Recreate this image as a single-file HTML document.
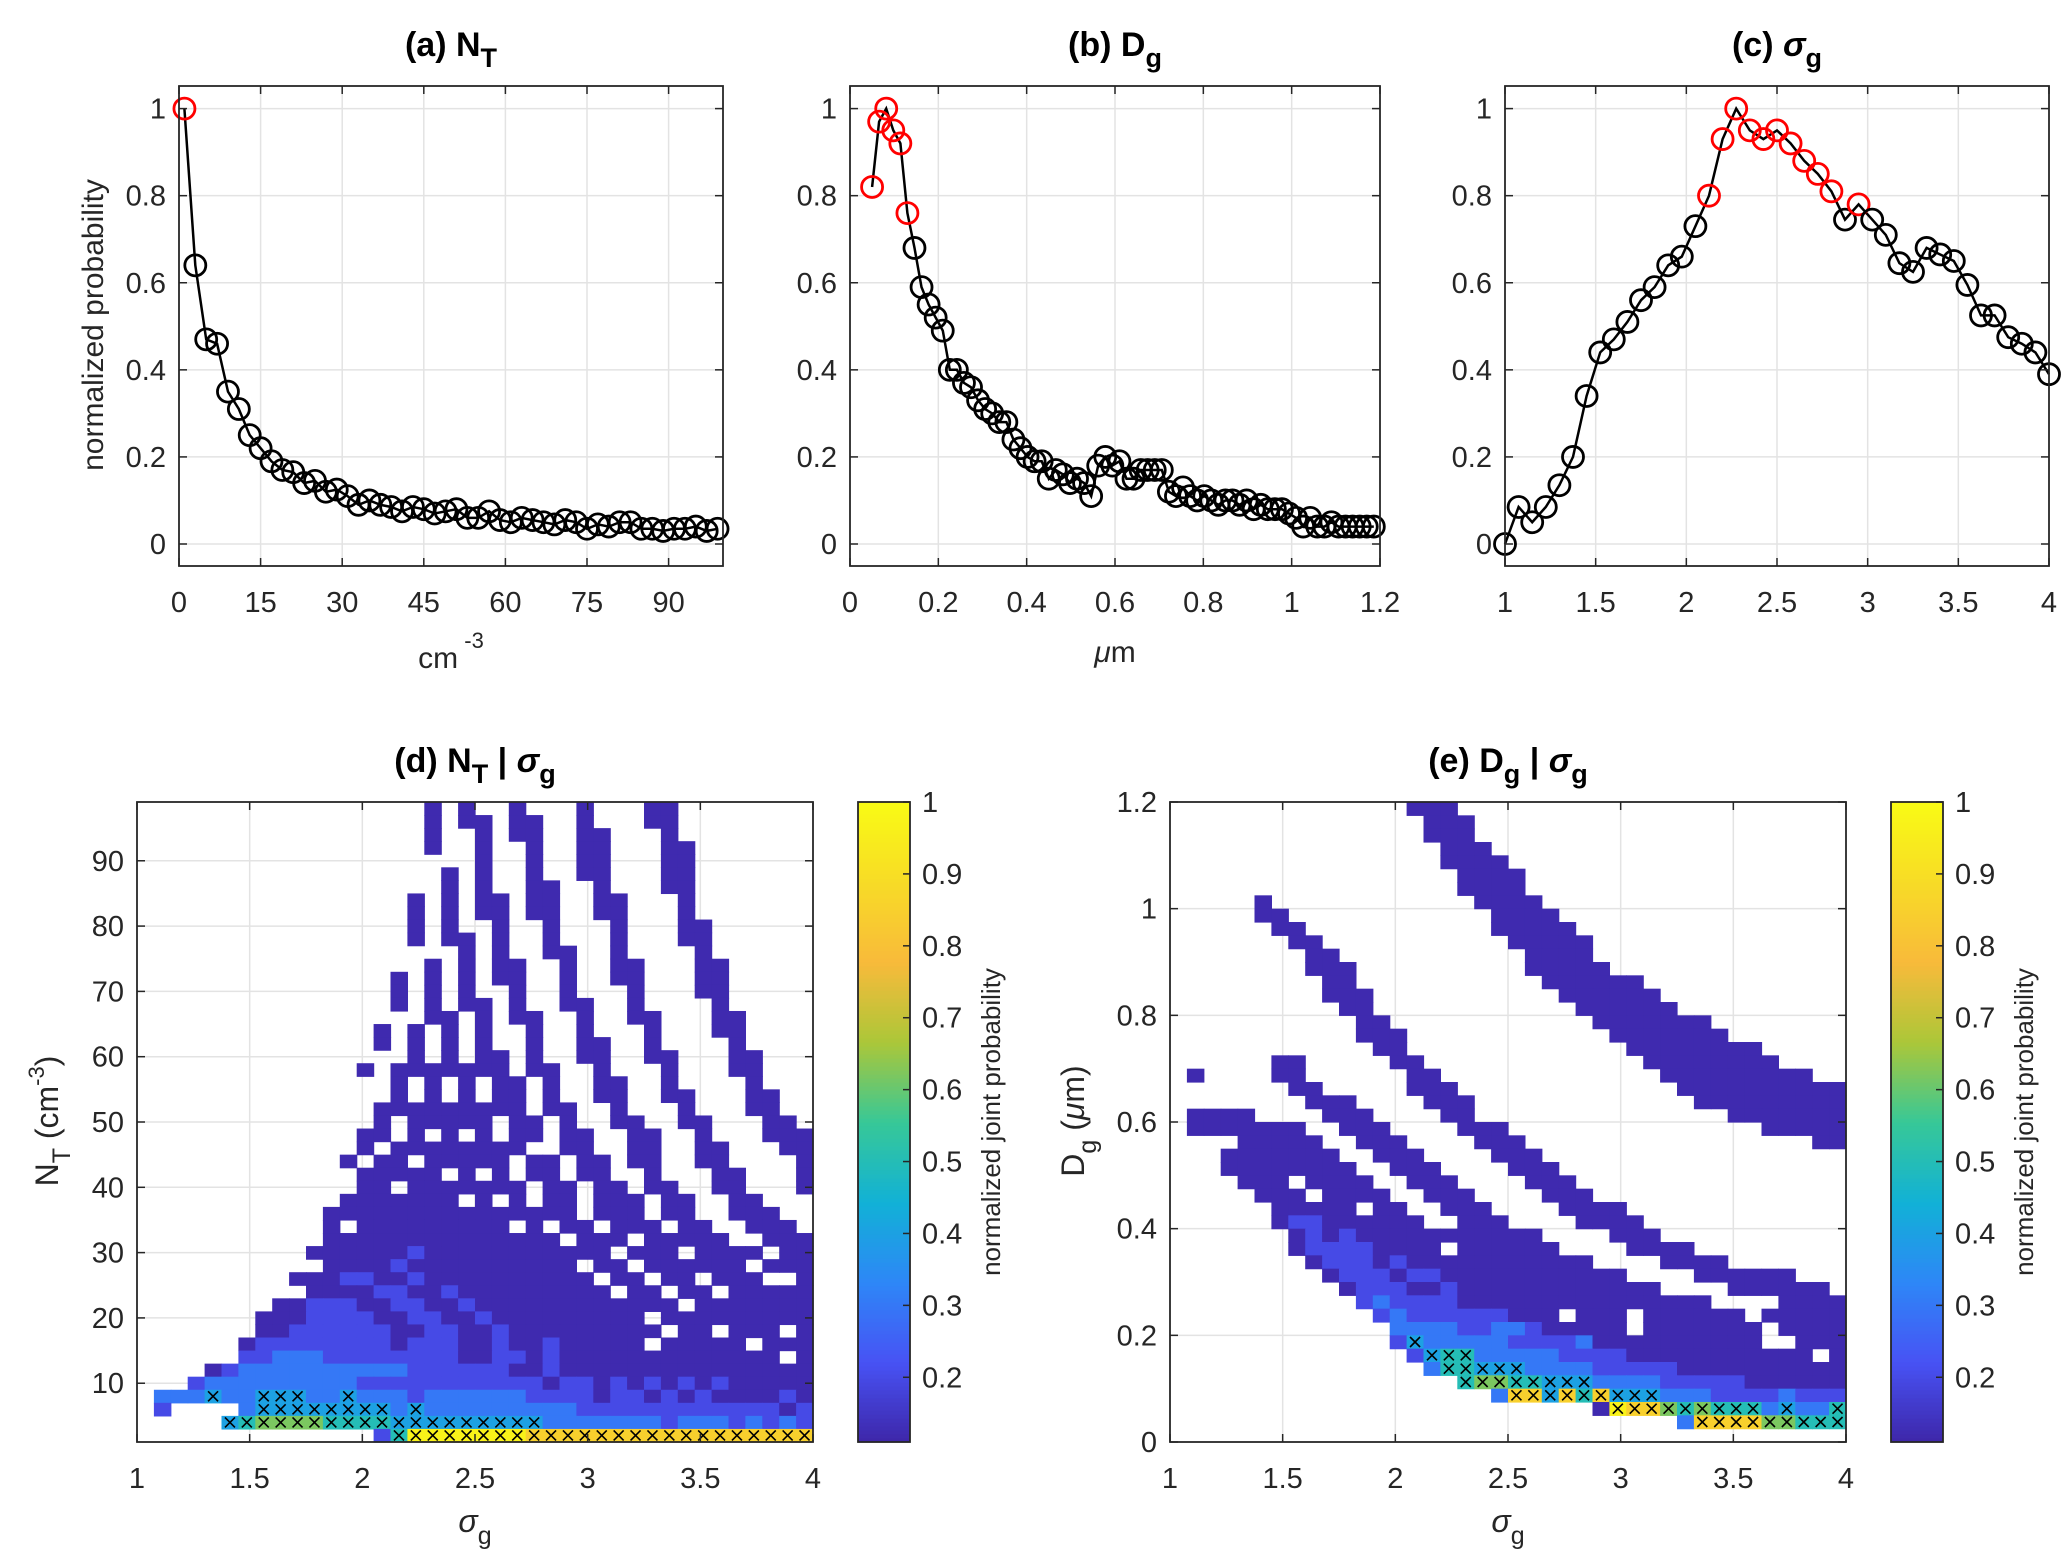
<!DOCTYPE html>
<html><head><meta charset="utf-8">
<style>
body{margin:0;background:#fff}
svg{display:block;font-family:"Liberation Sans",Arial,sans-serif}
</style></head>
<body>
<svg id="fig" width="2067" height="1565" viewBox="0 0 2067 1565">
<rect width="2067" height="1565" fill="#fff"/>
<text x="451" y="56" font-size="34" font-weight="bold" text-anchor="middle" fill="#000">(a) N<tspan font-size="27" dy="11">T</tspan></text>
<text x="1115" y="56" font-size="34" font-weight="bold" text-anchor="middle" fill="#000">(b) D<tspan font-size="27" dy="11">g</tspan></text>
<text x="1777" y="56" font-size="34" font-weight="bold" text-anchor="middle" fill="#000">(c) <tspan font-style="italic">σ</tspan><tspan font-size="27" dy="11">g</tspan></text>
<text x="475" y="772" font-size="34" font-weight="bold" text-anchor="middle" fill="#000">(d) N<tspan font-size="27" dy="11">T</tspan><tspan dy="-11"> | </tspan><tspan font-style="italic">σ</tspan><tspan font-size="27" dy="11">g</tspan></text>
<text x="1508" y="772" font-size="34" font-weight="bold" text-anchor="middle" fill="#000">(e) D<tspan font-size="27" dy="11">g</tspan><tspan dy="-11"> | </tspan><tspan font-style="italic">σ</tspan><tspan font-size="27" dy="11">g</tspan></text>
<text x="451" y="668" font-size="30" text-anchor="middle" fill="#262626">cm<tspan font-size="22" dy="-20"> -3</tspan></text>
<text x="1115" y="662" font-size="30" text-anchor="middle" fill="#262626"><tspan font-style="italic">μ</tspan>m</text>
<text transform="translate(103,325) rotate(-90)" font-size="30" text-anchor="middle" fill="#262626">normalized probability</text>
<text x="475" y="1532" font-size="32" text-anchor="middle" fill="#262626"><tspan font-style="italic">σ</tspan><tspan font-size="25" dy="12">g</tspan></text>
<text x="1508" y="1532" font-size="32" text-anchor="middle" fill="#262626"><tspan font-style="italic">σ</tspan><tspan font-size="25" dy="12">g</tspan></text>
<text transform="translate(58,1121) rotate(-90)" font-size="32" text-anchor="middle" fill="#262626">N<tspan font-size="25" dy="12">T</tspan><tspan dy="-12">  (cm</tspan><tspan font-size="22" dy="-14">-3</tspan><tspan dy="14">)</tspan></text>
<text transform="translate(1084,1121) rotate(-90)" font-size="32" text-anchor="middle" fill="#262626">D<tspan font-size="25" dy="12">g</tspan><tspan dy="-12">  (</tspan><tspan font-style="italic">μ</tspan>m)</text>
<text transform="translate(1000,1122) rotate(-90)" font-size="26" text-anchor="middle" fill="#262626">normalized joint probability</text>
<text transform="translate(2033,1122) rotate(-90)" font-size="26" text-anchor="middle" fill="#262626">normalized joint probability</text>
</svg>
<script>
// ---------- data ----------
const aX=[1,3,5,7,9,11,13,15,17,19,21,23,25,27,29,31,33,35,37,39,41,43,45,47,49,51,53,55,57,59,61,63,65,67,69,71,73,75,77,79,81,83,85,87,89,91,93,95,97,99];
const aY=[1,0.64,0.47,0.46,0.35,0.31,0.25,0.22,0.19,0.17,0.165,0.14,0.145,0.12,0.125,0.11,0.09,0.10,0.09,0.085,0.075,0.085,0.08,0.07,0.075,0.08,0.06,0.06,0.075,0.055,0.05,0.06,0.055,0.05,0.045,0.055,0.05,0.035,0.045,0.04,0.05,0.05,0.035,0.035,0.03,0.035,0.035,0.04,0.03,0.035];
const aRed=[0];
const bX=[0.05,0.066,0.082,0.098,0.114,0.13,0.146,0.162,0.178,0.194,0.21,0.226,0.242,0.258,0.274,0.29,0.306,0.322,0.338,0.354,0.37,0.386,0.402,0.418,0.434,0.45,0.466,0.482,0.498,0.514,0.53,0.546,0.562,0.578,0.594,0.61,0.626,0.642,0.658,0.674,0.69,0.706,0.722,0.738,0.754,0.77,0.786,0.802,0.818,0.834,0.85,0.866,0.882,0.898,0.914,0.93,0.946,0.962,0.978,0.994,1.01,1.026,1.042,1.058,1.074,1.09,1.106,1.122,1.138,1.154,1.17,1.186];
const bY=[0.82,0.97,1.0,0.95,0.92,0.76,0.68,0.59,0.55,0.52,0.49,0.40,0.40,0.37,0.36,0.33,0.31,0.30,0.28,0.28,0.24,0.22,0.20,0.19,0.19,0.15,0.17,0.16,0.14,0.15,0.14,0.11,0.18,0.20,0.18,0.19,0.15,0.15,0.17,0.17,0.17,0.17,0.12,0.11,0.13,0.11,0.10,0.11,0.10,0.09,0.10,0.10,0.09,0.10,0.08,0.09,0.08,0.08,0.08,0.07,0.06,0.04,0.06,0.04,0.04,0.05,0.04,0.04,0.04,0.04,0.04,0.04];
const bRed=[0,1,2,3,4,5];
const cX=[1,1.075,1.15,1.225,1.3,1.375,1.45,1.525,1.6,1.675,1.75,1.825,1.9,1.975,2.05,2.125,2.2,2.275,2.35,2.425,2.5,2.575,2.65,2.725,2.8,2.875,2.95,3.025,3.1,3.175,3.25,3.325,3.4,3.475,3.55,3.625,3.7,3.775,3.85,3.925,4];
const cY=[0,0.085,0.05,0.085,0.135,0.20,0.34,0.44,0.47,0.51,0.56,0.59,0.64,0.66,0.73,0.80,0.93,1.0,0.95,0.93,0.95,0.92,0.88,0.85,0.81,0.745,0.78,0.745,0.71,0.645,0.625,0.68,0.665,0.65,0.595,0.525,0.525,0.475,0.46,0.44,0.39];
const cRed=[15,16,17,18,19,20,21,22,23,24,26];
const probTicks=[0,0.2,0.4,0.6,0.8,1];
const probTickLabels=['0','0.2','0.4','0.6','0.8','1'];
const aXTicks=[0,15,30,45,60,75,90];
const aXTickLabels=['0','15','30','45','60','75','90'];
const bXTicks=[0,0.2,0.4,0.6,0.8,1,1.2];
const bXTickLabels=['0','0.2','0.4','0.6','0.8','1','1.2'];
const sigTicks=[1,1.5,2,2.5,3,3.5,4];
const sigTickLabels=['1','1.5','2','2.5','3','3.5','4'];
const dYTicks=[10,20,30,40,50,60,70,80,90];
const dYTickLabels=['10','20','30','40','50','60','70','80','90'];
const eYTicks=[0,0.2,0.4,0.6,0.8,1,1.2];
const eYTickLabels=['0','0.2','0.4','0.6','0.8','1','1.2'];
const cbTicks=[0.2,0.3,0.4,0.5,0.6,0.7,0.8,0.9,1];
const cbTickLabels=['0.2','0.3','0.4','0.5','0.6','0.7','0.8','0.9','1'];
// heatmap level codes (uppercase = marked with x)
const levelKeys=['a','b','c','d','e','f','g','h'];
const levelVals=[0.12,0.2,0.3,0.4,0.5,0.62,0.85,0.97];
const dSigmaMin=1, dSigmaStep=0.075, dNtTop=99, dNtStep=2;
const dRows=[
"..........".concat(".......a.a","..a...a...","aa........"),
"..........".concat(".......a.a","a.aa..a...","aa........"),
"..........".concat(".......a..","a.aa..aa..",".a........"),
"..........".concat(".......a..","a..a..aa..",".aa......."),
"..........".concat("..........","a..a..aa..",".aa......."),
"..........".concat("........a.","a..a..aa..",".aa......."),
"..........".concat("........a.","a..aa..a..",".aa......."),
"..........".concat("......a.a.","aa.aa..aa.","..a......."),
"..........".concat("......a.a.","aa.aa..aa.","..a......."),
"..........".concat("......a.a.",".a..a...a.","..aa......"),
"..........".concat("......a.aa",".a..a...a.","..aa......"),
"..........".concat(".........a",".a..aa..a.","...a......"),
"..........".concat(".......a.a",".aa..a..aa","...aa....."),
"..........".concat(".....a.a.a",".aa..a..aa","...aa....."),
"..........".concat(".....a.a.a","..a..a...a","...aa....."),
"..........".concat(".....a.a.a","a.a..aa..a","....a....."),
"..........".concat(".......aa.","a.aa..a..a","a...aa...."),
"..........".concat("....a.a.a.","a..a..a...","a...aa...."),
"..........".concat("....a.a.a.","a..a..aa..","a....a...."),
"..........".concat("......a.a.","aa.a..aa..","aa...aa..."),
"..........".concat("...a.aaaaa","aa.aa..a..",".a...aa..."),
"..........".concat(".....a.a.a",".aa.a..aa.",".a....a..."),
"..........".concat(".....a.a.a",".aa.a..aa.",".aa...aa.."),
"..........".concat("....aaaaaa","aaa.aa..a.","..a...aa.."),
"..........".concat("....a.aaaa","a.aa.a..aa","..aa...aa."),
"..........".concat("...aa.a.a.","a.aa.aa..a","a..a...aaa"),
"..........".concat("...a.aaaaa","aaa..aa..a","a..aa...aa"),
"..........".concat("..a.aa.aaa","aa.aa.aa.a","a..aa....a"),
"..........".concat("...aaaaa.a",".a.aa.aa..","a...aa...a"),
"..........".concat("...aa.aaaa","aaa.aa.aa.","aa..aa...a"),
"..........".concat("..aaaaaaa.","a.a.aa.aaa",".aa..aa..."),
"..........".concat(".aaaaaaaaa","aaaaaa.aaa",".aa..aaa.."),
"..........".concat(".a.aaaaaaa","aa.a.aa.aa","a.aa..aaa."),
"..........".concat(".aaaaaaaaa","aaaaa.aaa.","aaaaa..aaa"),
"..........".concat("aaaaaabaaa","aaaaaaaa.a","aa.aaaa.aa"),
"..........".concat(".aaaabaaaa","aaaaaa.aa.","aaaaaa.aaa"),
".........a".concat("aabbaabaaa","aaaaaaa.aa",".aa.aaa..a"),
"..........".concat("aaaabbaaba","aaaaaaaa.a","a.aa.aaaaa"),
"........aa".concat("bbbaabbaab","aaaaaaaaaa","aa.aaaaaaa"),
".......aaa".concat("bbbbaabbaa","baaaaaaaaa",".aaaaaaaaa"),
".......aab".concat("bbbbbaabba","abaaaaaaaa","a.aa.aaa.a"),
"......abbb".concat("bbbbbabbba","abaabaaaaa",".aaaaa.aaa"),
"......bbcc".concat("cbbbbbbbba","abbabaaaaa","aaaaaaaa.a"),
"....abcccc".concat("ccccccbbbb","bbaabaaaaa","aaaaaaaaaa"),
"...bcccccc".concat("cccbbbbbbb","bbbbabbaba","bababaaaaa"),
".cccDccDDD".concat("ccDcccbccc","cccbbbbabb","ababaaaaba"),
".b....cDDD".concat("DDDDDcDccc","ccccccbbbb","bbbbbbbbab"),
".....DEFFF".concat("FEEEEDDDDD","DDDDcccccc","cbcccbcbcb"),
"..........".concat("....bEHHHH","HHHGGGGGGG","GGGGGGGGGG")
];
const eSigmaMin=1, eSigmaStep=0.075, eDgTop=1.2, eDgStep=0.025;
const eRows=[
"..........".concat("....aaa...","..........",".........."),
"..........".concat(".....aaa..","..........",".........."),
"..........".concat(".....aaa..","..........",".........."),
"..........".concat("......aaa.","..........",".........."),
"..........".concat("......aaaa","..........",".........."),
"..........".concat(".......aaa","a.........",".........."),
"..........".concat(".......aaa","a.........",".........."),
".....a....".concat("........aa","aa........",".........."),
".....aa...".concat(".........a","aaa.......",".........."),
"......aa..".concat(".........a","aaaa......",".........."),
".......aa.".concat("..........","aaaaa.....",".........."),
"........aa".concat("..........",".aaaa.....",".........."),
"........aa".concat("a.........",".aaaaa....",".........."),
".........a".concat("a.........","..aaaaaa..",".........."),
".........a".concat("aa........","...aaaaaa.",".........."),
"..........".concat("aa........","....aaaaaa",".........."),
"..........".concat(".aa.......",".....aaaaa","aa........"),
"..........".concat(".aaa......","......aaaa","aaa......."),
"..........".concat("..aa......",".......aaa","aaaaa....."),
"......aa..".concat("...aa.....","........aa","aaaaaa...."),
".a....aa..".concat("....aa....",".........a","aaaaaaaa.."),
".......aa.".concat("....aaa...","..........","aaaaaaaaaa"),
"........aa".concat("a....aaa..","..........",".aaaaaaaaa"),
".aaaa....a".concat("aa....aa..","..........","...aaaaaaa"),
".aaaaaaa..".concat("aaa....aaa","..........",".....aaaaa"),
"....aaaaa.".concat(".aaa....aa","a.........","........aa"),
"...aaaaaaa".concat("..aaa....a","aa........",".........."),
"...aaaaaaa".concat("a..aaa....","aaa.......",".........."),
"....aaa.aa".concat("aa..aaa...",".aaa......",".........."),
".....aaa.a".concat("aaa..aaa..","..aaa.....",".........."),
"......aaaa".concat("a.aa..aaa.","...aaaa...",".........."),
"......abba".concat("aaaaa..aaa","....aaaa..",".........."),
".......aba".concat("baaaaaaaaa","aa....aaa.",".........."),
".......abb".concat("bbaaaa.aaa","aaa....aaa","a........."),
"........ab".concat("bbabaaaaaa","aaaaa....a","aaa......."),
".........a".concat("bbbabbaaaa","aaaaaaa...",".aaaaaa..."),
"..........".concat("abbbaabaaa","aaaaaaaaa.","...aaaaaa."),
"..........".concat(".bcbbbbaaa","aaaaaaaaaa","aa....aaaa"),
"..........".concat("..bcbbbbbb","aaa.aaa.aa","aaaa.aaaaa"),
"..........".concat("...ccccbbc","cbaaaaa.aa","aaaaa.aaaa"),
"..........".concat("...bDccccc","bbbbcaaaaa","aaaaa..aaa"),
"..........".concat("....bDEEcc","cccbbbbaaa","aaaaaaaa.a"),
"..........".concat(".....cEEDD","Dccccbbbbb","aaaaaaaaaa"),
"..........".concat(".......EFF","EEDDDccccb","bbbbaaaaaa"),
"..........".concat(".........c","GGDGEGDDDc","ccbbbbcbbb"),
"..........".concat("..........",".....aHGGF","EFEEEcDccE"),
"..........".concat("..........","..........","cGGGGFFEEE"),
"..........".concat("..........","..........","..........")
];
const cbMin=0.11, cbMax=1;

// ---------- helpers ----------
const NS="http://www.w3.org/2000/svg";
const svg=document.getElementById('fig');
function mk(tag,attrs,parent){const e=document.createElementNS(NS,tag);for(const k in attrs)e.setAttribute(k,attrs[k]);(parent||svg).appendChild(e);return e;}
const parula=[[0.2422,0.1504,0.6603],[0.2810,0.3228,0.9579],[0.1786,0.5289,0.9682],[0.0689,0.6948,0.8394],[0.2161,0.7843,0.5923],[0.6720,0.7793,0.2227],[0.9736,0.7309,0.2287],[0.97,0.86,0.15],[0.9769,0.9839,0.0805]];
function colorFor(v){let t=(v-cbMin)/(cbMax-cbMin);t=Math.max(0,Math.min(1,t));const p=t*(parula.length-1);const i=Math.min(parula.length-2,Math.floor(p));const f=p-i;const c=[0,1,2].map(k=>Math.round(255*(parula[i][k]+(parula[i+1][k]-parula[i][k])*f)));return 'rgb('+c.join(',')+')';}
function lin(d0,d1,r0,r1){return v=>r0+(v-d0)/(d1-d0)*(r1-r0);}

function drawGrid(g,box,xs,ys,xt,yt){
  xt.forEach(v=>{const x=xs(v);if(x>box.x0+1&&x<box.x1-1){const l=mk('line',{x1:x,x2:x,y1:box.y0,y2:box.y1,stroke:'#e3e3e3','stroke-width':1.5},g);
  
  }});
  yt.forEach(v=>{const y=ys(v);if(y>box.y0+1&&y<box.y1-1){const l=mk('line',{x1:box.x0,x2:box.x1,y1:y,y2:y,stroke:'#e3e3e3','stroke-width':1.5},g);
  
  }});
}
function drawFrame(g,box,xs,ys,xt,xl,yt,yl){
  const r=mk('rect',{x:box.x0,y:box.y0,width:box.x1-box.x0,height:box.y1-box.y0,fill:'none',stroke:'#262626','stroke-width':1.8},g);
  
  
  xt.forEach((v,i)=>{const x=xs(v);
    const t1=mk('line',{x1:x,x2:x,y1:box.y1,y2:box.y1-8,stroke:'#262626','stroke-width':1.5},g);
    
    
    const t2=mk('line',{x1:x,x2:x,y1:box.y0,y2:box.y0+8,stroke:'#262626','stroke-width':1.5},g);
    
    
    const tx=mk('text',{x:x,y:box.y1+46,'font-size':29,'text-anchor':'middle',fill:'#262626'},g);
    tx.textContent=xl[i];
    
    
  });
  yt.forEach((v,i)=>{const y=ys(v);
    const t1=mk('line',{x1:box.x0,x2:box.x0+8,y1:y,y2:y,stroke:'#262626','stroke-width':1.5},g);
    
    
    const t2=mk('line',{x1:box.x1,x2:box.x1-8,y1:y,y2:y,stroke:'#262626','stroke-width':1.5},g);
    
    
    const tx=mk('text',{x:box.x0-13,y:y+10,'font-size':29,'text-anchor':'end',fill:'#262626'},g);
    tx.textContent=yl[i];
    
    
  });
}
function linePanel(name,box,xs,X,Y,red,xt,xl){
  const g=mk('g',{});
  
  
  const ys=lin(0,1,544,108.6);
  drawGrid(g,box,xs,ys,xt,probTicks);
  const pts=X.map((x,i)=>xs(x).toFixed(1)+','+ys(Y[i]).toFixed(1)).join(' ');
  const pl=mk('polyline',{points:pts,fill:'none',stroke:'#000','stroke-width':2.5},g);
  
  
  X.forEach((x,i)=>{const isRed=red.indexOf(i)>=0;
    const c=mk('circle',{cx:xs(x),cy:ys(Y[i]),r:10.5,fill:'none',stroke:isRed?'#ff0000':'#000','stroke-width':2.8},g);
    
    
  });
  drawFrame(g,box,xs,ys,xt,xl,probTicks,probTickLabels);
}
function heatPanel(name,box,xs,ys,rows,sMin,sStep,top,step,yt,yl,cbx){
  const g=mk('g',{});
  
  
  drawGrid(g,box,xs,ys,sigTicks,yt);
  const marks=[];
  rows.forEach((row,r)=>{
    for(let c=0;c<row.length;c++){const ch=row[c];if(ch==='.')continue;
      const lo=ch.toLowerCase();const v=levelVals[levelKeys.indexOf(lo)];
      const x0=xs(sMin+c*sStep),x1=xs(sMin+(c+1)*sStep);
      const y0=ys(top-r*step),y1=ys(top-(r+1)*step);
      const cell=mk('rect',{x:x0.toFixed(2),y:y0.toFixed(2),width:(x1-x0+0.6).toFixed(2),height:(y1-y0+0.6).toFixed(2),fill:colorFor(v)},g);
      
      
      if(ch!==lo)marks.push([(x0+x1)/2,(y0+y1)/2]);
    }
  });
  marks.forEach(m=>{
    const p=mk('path',{d:`M${m[0]-5},${m[1]-5}L${m[0]+5},${m[1]+5}M${m[0]+5},${m[1]-5}L${m[0]-5},${m[1]+5}`,stroke:'#000','stroke-width':1.6,fill:'none'},g);
    
    
  });
  drawFrame(g,box,xs,ys,sigTicks,sigTickLabels,yt,yl);
  const cb=mk('g',{});
  
  
  const cy=lin(cbMin,cbMax,box.y1,box.y0);
  const N=160;
  for(let i=0;i<N;i++){const v0=cbMin+(cbMax-cbMin)*i/N,v1=cbMin+(cbMax-cbMin)*(i+1)/N;
    const s=mk('rect',{x:cbx,y:cy(v1).toFixed(2),width:52,height:(cy(v0)-cy(v1)+0.6).toFixed(2),fill:colorFor((v0+v1)/2)},cb);
    
    }
  const fr=mk('rect',{x:cbx,y:box.y0,width:52,height:box.y1-box.y0,fill:'none',stroke:'#262626','stroke-width':1.8},cb);
  
  
  cbTicks.forEach((v,i)=>{const y=cy(v);
    const t=mk('line',{x1:cbx+52,x2:cbx+45,y1:y,y2:y,stroke:'#262626','stroke-width':1.5},cb);
    
    
    const tx=mk('text',{x:cbx+64,y:y+10,'font-size':29,fill:'#262626'},cb);
    tx.textContent=cbTickLabels[i];
    
    
  });
}
// ---------- draw ----------
linePanel('panel-a-nt',{x0:179,x1:723,y0:86,y1:566},lin(0,100,179,723),aX,aY,aRed,aXTicks,aXTickLabels);
linePanel('panel-b-dg',{x0:850,x1:1380,y0:86,y1:566},lin(0,1.2,850,1380),bX,bY,bRed,bXTicks,bXTickLabels);
linePanel('panel-c-sigma',{x0:1505,x1:2049,y0:86,y1:566},lin(1,4,1505,2049),cX,cY,cRed,sigTicks,sigTickLabels);
heatPanel('panel-d-heatmap',{x0:137,x1:813,y0:802,y1:1442},lin(1,4,137,813),lin(1,99,1442,802),dRows,dSigmaMin,dSigmaStep,dNtTop,dNtStep,dYTicks,dYTickLabels,858);
heatPanel('panel-e-heatmap',{x0:1170,x1:1846,y0:802,y1:1442},lin(1,4,1170,1846),lin(0,1.2,1442,802),eRows,eSigmaMin,eSigmaStep,eDgTop,eDgStep,eYTicks,eYTickLabels,1891);
</script>
</body></html>
